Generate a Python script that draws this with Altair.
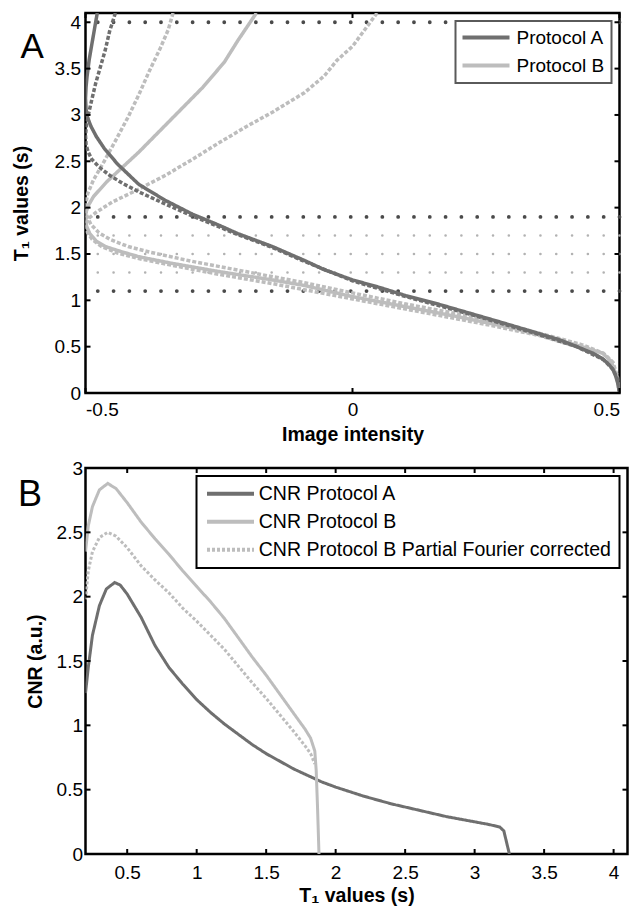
import altair as alt
import pandas as pd

# ---------------- Panel A: T1 (s) versus image intensity ----------------
A_solid_x = [-0.478, -0.487, -0.493, -0.497, -0.499, -0.500, -0.499, -0.496, -0.49, -0.48, -0.465, -0.44, -0.40,
             -0.351, -0.30, -0.25, -0.215, -0.15, -0.09, -0.053, 0.0, 0.05, 0.10, 0.16, 0.22, 0.28, 0.344, 0.39,
             0.42, 0.45, 0.468, 0.48, 0.488, 0.493, 0.497, 0.5]
A_solid_T1 = [4.10, 3.80, 3.60, 3.42, 3.30, 3.18, 3.06, 2.97, 2.88, 2.77, 2.64, 2.47, 2.25, 2.08, 1.93, 1.81,
              1.72, 1.58, 1.43, 1.33, 1.22, 1.14, 1.05, 0.96, 0.86, 0.76, 0.65, 0.57, 0.50, 0.43, 0.37, 0.31,
              0.25, 0.18, 0.10, 0.0]

A_dot_x = [-0.444, -0.455, -0.463, -0.472, -0.481, -0.488, -0.494, -0.498, -0.500, -0.499, -0.495, -0.488,
           -0.475, -0.455, -0.43, -0.40, -0.351, -0.30, -0.215, -0.15, -0.09, 0.0, 0.10, 0.22, 0.344, 0.42,
           0.47, 0.487, 0.495, 0.499, 0.5]
A_dot_T1 = [4.10, 3.90, 3.70, 3.52, 3.34, 3.17, 3.02, 2.90, 2.78, 2.68, 2.60, 2.52, 2.44, 2.35, 2.26, 2.17,
            2.04, 1.91, 1.71, 1.57, 1.42, 1.21, 1.04, 0.85, 0.64, 0.50, 0.36, 0.26, 0.17, 0.08, 0.0]

B_solid_x = [-0.180, -0.215, -0.24, -0.28, -0.34, -0.40, -0.46, -0.485, -0.495, -0.499, -0.500, -0.498, -0.492,
             -0.48, -0.463, -0.43, -0.40, -0.339, -0.25, -0.15, -0.09, -0.053, 0.0, 0.10, 0.20, 0.30, 0.38,
             0.43, 0.468, 0.485, 0.496, 0.5]
B_solid_T1 = [4.10, 3.80, 3.57, 3.30, 2.95, 2.60, 2.28, 2.12, 2.02, 1.95, 1.88, 1.80, 1.72, 1.64, 1.58, 1.52,
              1.47, 1.40, 1.31, 1.22, 1.16, 1.11, 1.04, 0.93, 0.82, 0.70, 0.58, 0.50, 0.43, 0.34, 0.14, 0.0]

B_dash1_x = [-0.336, -0.345, -0.36, -0.38, -0.40, -0.42, -0.444, -0.465, -0.485, -0.496, -0.500, -0.498, -0.49,
             -0.475, -0.455, -0.42, -0.38, -0.30, -0.20, -0.09, 0.0, 0.10, 0.20, 0.30, 0.38, 0.43, 0.47, 0.488,
             0.497, 0.5]
B_dash1_T1 = [4.10, 3.92, 3.72, 3.48, 3.22, 2.98, 2.72, 2.50, 2.30, 2.15, 2.02, 1.92, 1.82, 1.73, 1.66, 1.58,
              1.52, 1.42, 1.31, 1.19, 1.08, 0.96, 0.85, 0.72, 0.60, 0.52, 0.43, 0.33, 0.16, 0.0]

B_dash2_x = [0.046, 0.0, -0.029, -0.053, -0.09, -0.15, -0.20, -0.25, -0.30, -0.35, -0.40, -0.45, -0.48, -0.495,
             -0.500, -0.497, -0.488, -0.47, -0.44, -0.40, -0.34, -0.25, -0.15, -0.05, 0.05, 0.15, 0.25, 0.35,
             0.42, 0.46, 0.485, 0.495, 0.5]
B_dash2_T1 = [4.10, 3.74, 3.59, 3.42, 3.24, 3.03, 2.87, 2.70, 2.52, 2.35, 2.20, 2.06, 1.95, 1.88, 1.82, 1.74,
              1.66, 1.58, 1.51, 1.45, 1.38, 1.28, 1.18, 1.07, 0.96, 0.85, 0.74, 0.62, 0.50, 0.40, 0.30, 0.18, 0.0]

ref_dark_T1 = [1.1, 1.9, 4.0]
ref_light_T1 = [1.3, 1.5, 1.7]

top_x_ticks = [-0.5, 0, 0.5]
top_y_ticks = [0, 0.5, 1, 1.5, 2, 2.5, 3, 3.5, 4]

# ---------------- Panel B: CNR versus T1 ----------------
T1_A = [0.20, 0.22, 0.25, 0.30, 0.35, 0.41, 0.45, 0.50, 0.60, 0.70, 0.80, 0.90, 1.00, 1.10, 1.20, 1.30, 1.40,
        1.50, 1.60, 1.70, 1.80, 1.90, 2.00, 2.20, 2.40, 2.60, 2.80, 3.00, 3.10, 3.18, 3.21, 3.25]
CNR_A = [1.25, 1.45, 1.70, 1.93, 2.06, 2.11, 2.09, 2.02, 1.84, 1.62, 1.45, 1.32, 1.20, 1.10, 1.01, 0.93, 0.85,
         0.78, 0.72, 0.66, 0.61, 0.56, 0.52, 0.45, 0.39, 0.34, 0.29, 0.25, 0.23, 0.21, 0.18, 0.0]

T1_B = [0.20, 0.22, 0.25, 0.30, 0.36, 0.42, 0.50, 0.60, 0.70, 0.80, 0.90, 1.00, 1.10, 1.20, 1.30, 1.40, 1.50,
        1.60, 1.70, 1.78, 1.82, 1.85, 1.86, 1.87, 1.88]
CNR_B = [2.35, 2.55, 2.70, 2.83, 2.88, 2.84, 2.73, 2.58, 2.45, 2.33, 2.20, 2.08, 1.96, 1.83, 1.68, 1.53, 1.39,
         1.24, 1.09, 0.97, 0.90, 0.80, 0.65, 0.35, 0.0]

T1_PF = [0.20, 0.22, 0.25, 0.30, 0.36, 0.42, 0.50, 0.60, 0.70, 0.80, 0.90, 1.00, 1.10, 1.20, 1.30, 1.40, 1.50,
         1.60, 1.70, 1.78, 1.82, 1.85]
CNR_PF = [1.98, 2.20, 2.35, 2.46, 2.50, 2.47, 2.38, 2.24, 2.13, 2.03, 1.91, 1.81, 1.70, 1.59, 1.46, 1.33, 1.21,
          1.08, 0.95, 0.84, 0.78, 0.70]

bot_x_ticks = [0.5, 1, 1.5, 2, 2.5, 3, 3.5, 4]
bot_y_ticks = [0, 0.5, 1, 1.5, 2, 2.5, 3]

series_names = ["CNR Protocol A", "CNR Protocol B", "CNR Protocol B Partial Fourier corrected"]

# ---------------- styling ----------------
DARK = "#6f6f6f"
LIGHT = "#bdbdbd"
FONT = "Liberation Sans"
TW, TH = 534, 380
BW, BH = 542, 386
TICK = 5
LEG_LINE = "M-4.7,0L4.7,0"   # legend line symbol (scaled by sqrt(size)/2)


def curve_rows(cid, prot, style, xs, ys):
    return [dict(curve=cid, protocol=prot, style=style, idx=i, x=a, y=b)
            for i, (a, b) in enumerate(zip(xs, ys))]


top_rows = (curve_rows("c1", "Protocol B", "dotted", B_dash2_x, B_dash2_T1)
            + curve_rows("c2", "Protocol B", "dotted", B_dash1_x, B_dash1_T1)
            + curve_rows("c3", "Protocol B", "solid", B_solid_x, B_solid_T1)
            + curve_rows("c4", "Protocol A", "dotted", A_dot_x, A_dot_T1)
            + curve_rows("c5", "Protocol A", "solid", A_solid_x, A_solid_T1))
top_df = pd.DataFrame(top_rows)

bot_rows = []
for name, xs, ys in [(series_names[0], T1_A, CNR_A), (series_names[1], T1_B, CNR_B),
                     (series_names[2], T1_PF, CNR_PF)]:
    for i, (a, b) in enumerate(zip(xs, ys)):
        bot_rows.append(dict(series=name, idx=i, x=a, y=b))
bot_df = pd.DataFrame(bot_rows)

label_expr = "'' + datum.value"

XS_T = alt.Scale(domain=[-0.5, 0.5], nice=False, zero=False)
YS_T = alt.Scale(domain=[0, 4.1], nice=False, zero=False)
XS_B = alt.Scale(domain=[0.2, 4.1], nice=False, zero=False)
YS_B = alt.Scale(domain=[0, 3], nice=False, zero=False)

x_axis_t = alt.Axis(values=top_x_ticks, title="Image intensity", labelExpr=label_expr, labelPadding=7,
                    titlePadding=6)
y_axis_t = alt.Axis(values=top_y_ticks, title="T₁ values (s)", labelExpr=label_expr, labelPadding=5,
                    minExtent=41, maxExtent=41, titlePadding=13)
x_axis_b = alt.Axis(values=bot_x_ticks, title="T₁ values (s)", labelExpr=label_expr, labelPadding=9,
                    titlePadding=4)
y_axis_b = alt.Axis(values=bot_y_ticks, title="CNR (a.u.)", labelExpr=label_expr, labelPadding=3,
                    minExtent=27, maxExtent=27, titlePadding=13)


def tick_layers(xt, yt, xs, ys, xa, ya, W, H):
    xd = pd.DataFrame({"x": xt})
    yd = pd.DataFrame({"y": yt})
    base = dict(color="black", strokeWidth=2)
    return [
        alt.Chart(yd).mark_rule(**base).encode(y=alt.Y("y:Q", scale=ys, axis=ya), x=alt.value(0),
                                                x2=alt.value(TICK)),
        alt.Chart(yd).mark_rule(**base).encode(y=alt.Y("y:Q", scale=ys, axis=ya), x=alt.value(W - TICK),
                                                x2=alt.value(W)),
        alt.Chart(xd).mark_rule(**base).encode(x=alt.X("x:Q", scale=xs, axis=xa), y=alt.value(H - TICK),
                                                y2=alt.value(H)),
        alt.Chart(xd).mark_rule(**base).encode(x=alt.X("x:Q", scale=xs, axis=xa), y=alt.value(0),
                                                y2=alt.value(TICK)),
    ]


# ---- top panel ----
ref_light = alt.Chart(pd.DataFrame({"y": ref_light_T1})).mark_rule(
    color="#b2b2b2", strokeWidth=2.6, strokeDash=[0.01, 15.8], strokeCap="round"
).encode(y=alt.Y("y:Q", scale=YS_T, axis=y_axis_t))

ref_dark = alt.Chart(pd.DataFrame({"y": ref_dark_T1})).mark_rule(
    color="#4a4a4a", strokeWidth=3.8, strokeDash=[0.01, 15.8], strokeCap="round"
).encode(y=alt.Y("y:Q", scale=YS_T, axis=y_axis_t))

top_lines = alt.Chart(top_df).mark_line(strokeWidth=3.5, clip=True).encode(
    x=alt.X("x:Q", scale=XS_T, axis=x_axis_t),
    y=alt.Y("y:Q", scale=YS_T, axis=y_axis_t),
    color=alt.Color("protocol:N", scale=alt.Scale(domain=["Protocol A", "Protocol B"], range=[DARK, LIGHT]),
                    legend=alt.Legend(title=None, orient="top-right", offset=8, padding=7, fillColor="white",
                                      strokeColor="#5a5a5a", labelFontSize=19, labelFont=FONT,
                                      labelColor="black", symbolType=LEG_LINE, symbolSize=100,
                                      symbolStrokeWidth=4, rowPadding=8, labelOffset=21, symbolOffset=14)),
    strokeDash=alt.StrokeDash("style:N", scale=alt.Scale(domain=["solid", "dotted"], range=[[1, 0], [4, 2]]),
                              legend=None),
    detail="curve:N",
    order="idx:Q",
)

letter_a = alt.Chart(pd.DataFrame({"t": ["A"]})).mark_text(
    fontSize=35, align="left", baseline="alphabetic", font=FONT, color="black"
).encode(text="t:N", x=alt.value(-65), y=alt.value(45))

top = alt.layer(ref_light, ref_dark, top_lines,
                *tick_layers(top_x_ticks, top_y_ticks, XS_T, YS_T, x_axis_t, y_axis_t, TW, TH),
                letter_a).properties(width=TW, height=TH)

# ---- bottom panel ----
bot_legend = alt.Legend(title=None, orient="top-right", offset=8, padding=8, fillColor="white",
                        strokeColor="black", labelFontSize=19.5, labelFont=FONT, labelColor="black",
                        symbolType=LEG_LINE, symbolSize=100, symbolStrokeWidth=4, rowPadding=7,
                        labelOffset=18.5, symbolOffset=16.25, labelLimit=0)

bot_lines = alt.Chart(bot_df).mark_line(strokeWidth=3, clip=True).encode(
    x=alt.X("x:Q", scale=XS_B, axis=x_axis_b),
    y=alt.Y("y:Q", scale=YS_B, axis=y_axis_b),
    color=alt.Color("series:N", scale=alt.Scale(domain=series_names, range=[DARK, LIGHT, LIGHT]),
                    legend=bot_legend),
    strokeDash=alt.StrokeDash("series:N", scale=alt.Scale(domain=series_names,
                                                          range=[[1, 0], [1, 0], [3, 2]]),
                              legend=bot_legend),
    order="idx:Q",
)

letter_b = alt.Chart(pd.DataFrame({"t": ["B"]})).mark_text(
    fontSize=36, align="left", baseline="alphabetic", font=FONT, color="black"
).encode(text="t:N", x=alt.value(-67.5), y=alt.value(38))

bottom = alt.layer(bot_lines,
                   *tick_layers(bot_x_ticks, bot_y_ticks, XS_B, YS_B, x_axis_b, y_axis_b, BW, BH),
                   letter_b).properties(width=BW, height=BH)

chart = alt.vconcat(top, bottom, spacing=12).resolve_scale(
    color="independent", strokeDash="independent", x="independent", y="independent"
).resolve_legend(
    color="independent", strokeDash="independent"
).properties(
    padding={"left": 9.5, "top": 10, "right": 0, "bottom": 0}
).configure(font=FONT).configure_view(
    stroke="black", strokeWidth=2.5
).configure_axis(
    grid=False, domain=False, ticks=False, labelColor="black", titleColor="black", labelFont=FONT,
    titleFont=FONT, labelFontSize=19, titleFontSize=19.5, titleFontWeight="bold", labelFontWeight="normal"
).configure_legend(strokeWidth=2)

chart.save("out.html", embed_options={"renderer": "svg", "actions": False})
